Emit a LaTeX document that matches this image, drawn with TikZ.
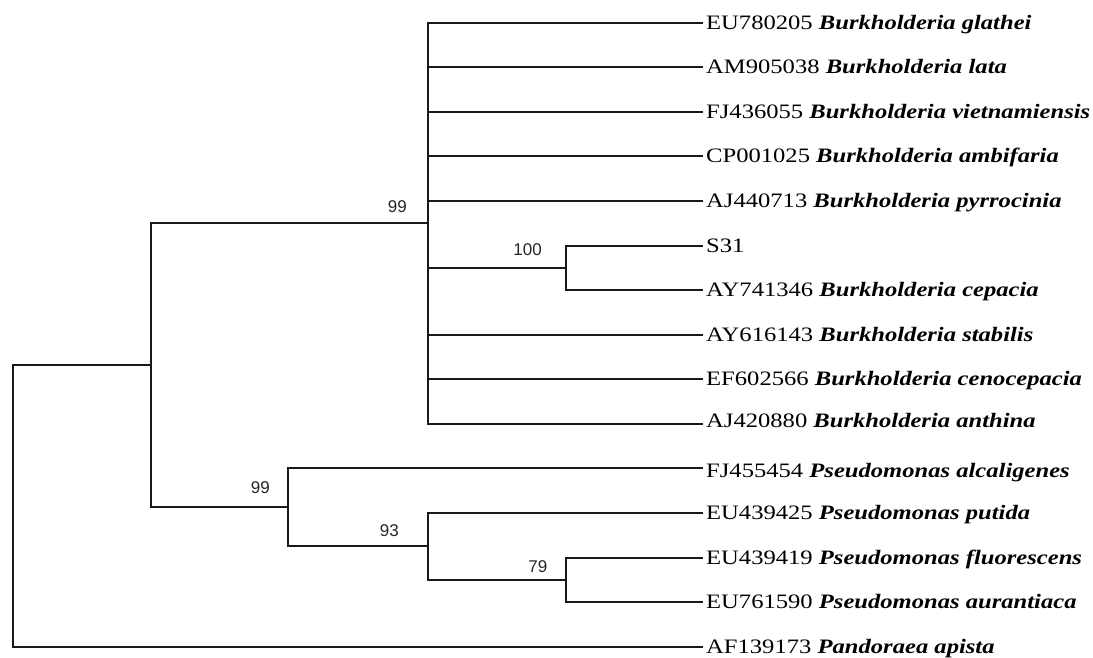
\documentclass[tikz,border=0pt]{standalone}
\usepackage{fontspec}
\setmainfont{Liberation Serif}[FakeStretch=1.2]
\newfontfamily\bsfont{Liberation Sans}
\begin{document}
\begin{tikzpicture}[x=1pt,y=-1pt,
  branch/.style={draw=black!90, line width=2pt},
  leaflabel/.style={anchor=base west, inner xsep=3pt, inner ysep=0pt, font=\fontsize{20.5}{24}\selectfont},
  boot/.style={anchor=base east, inner sep=0pt, font=\bsfont\fontsize{17}{20}\selectfont, text=black!85}]
\useasboundingbox[fill=white] (0,0) rectangle (1093,657);
% internal nodes
\coordinate (r) at (13,506);
\coordinate (a) at (151,365);
\coordinate (b) at (428,223);
\coordinate (c) at (566,268);
\coordinate (p) at (288,507);
\coordinate (q) at (428,546);
\coordinate (s) at (566,580);
% tips
\coordinate (t0) at (703,23);
\coordinate (t1) at (703,67);
\coordinate (t2) at (703,112);
\coordinate (t3) at (703,156);
\coordinate (t4) at (703,201);
\coordinate (t5) at (703,246);
\coordinate (t6) at (703,290);
\coordinate (t7) at (703,335);
\coordinate (t8) at (703,379);
\coordinate (t9) at (703,424);
\coordinate (t10) at (703,468);
\coordinate (t11) at (703,513);
\coordinate (t12) at (703,558);
\coordinate (t13) at (703,602);
\coordinate (t14) at (703,647);
% branches
\path[branch] (r) |- (a);
\path[branch] (r) |- (t14);
\path[branch] (a) |- (b);
\path[branch] (a) |- (p);
\path[branch] (b) |- (t0);
\path[branch] (b) |- (t1);
\path[branch] (b) |- (t2);
\path[branch] (b) |- (t3);
\path[branch] (b) |- (t4);
\path[branch] (b) -- (b |- c) -- (c);
\path[branch] (b) |- (t7);
\path[branch] (b) |- (t8);
\path[branch] (b) |- (t9);
\path[branch] (c) |- (t5);
\path[branch] (c) |- (t6);
\path[branch] (p) |- (t10);
\path[branch] (p) |- (q);
\path[branch] (q) |- (t11);
\path[branch] (q) |- (s);
\path[branch] (s) |- (t12);
\path[branch] (s) |- (t13);
% leaf labels
\node[leaflabel] (l0) at ([yshift=-6.7pt]t0) {EU780205 \textbf{\textit{Burkholderia glathei}}};
\node[leaflabel] (l1) at ([yshift=-6.7pt]t1) {AM905038 \textbf{\textit{Burkholderia lata}}};
\node[leaflabel] (l2) at ([yshift=-6.7pt]t2) {FJ436055 \textbf{\textit{Burkholderia vietnamiensis}}};
\node[leaflabel] (l3) at ([yshift=-6.7pt]t3) {CP001025 \textbf{\textit{Burkholderia ambifaria}}};
\node[leaflabel] (l4) at ([yshift=-6.7pt]t4) {AJ440713 \textbf{\textit{Burkholderia pyrrocinia}}};
\node[leaflabel] (l5) at ([yshift=-6.7pt]t5) {S31};
\node[leaflabel] (l6) at ([yshift=-6.7pt]t6) {AY741346 \textbf{\textit{Burkholderia cepacia}}};
\node[leaflabel] (l7) at ([yshift=-6.7pt]t7) {AY616143 \textbf{\textit{Burkholderia stabilis}}};
\node[leaflabel] (l8) at ([yshift=-6.7pt]t8) {EF602566 \textbf{\textit{Burkholderia cenocepacia}}};
\node[leaflabel] (l9) at ([yshift=-3pt]t9) {AJ420880 \textbf{\textit{Burkholderia anthina}}};
\node[leaflabel] (l10) at ([yshift=-9pt]t10) {FJ455454 \textbf{\textit{Pseudomonas alcaligenes}}};
\node[leaflabel] (l11) at ([yshift=-6.7pt]t11) {EU439425 \textbf{\textit{Pseudomonas putida}}};
\node[leaflabel] (l12) at ([yshift=-6.7pt]t12) {EU439419 \textbf{\textit{Pseudomonas fluorescens}}};
\node[leaflabel] (l13) at ([yshift=-6.7pt]t13) {EU761590 \textbf{\textit{Pseudomonas aurantiaca}}};
\node[leaflabel] (l14) at ([yshift=-6.7pt]t14) {AF139173 \textbf{\textit{Pandoraea apista}}};
% bootstrap values
\node[boot] (bb) at ([xshift=-21pt,yshift=11pt]b) {99};
\node[boot] (bc) at ([xshift=-24pt,yshift=13pt]c) {100};
\node[boot] (bp) at ([xshift=-18pt,yshift=14pt]p) {99};
\node[boot] (bq) at ([xshift=-29pt,yshift=9.5pt]q) {93};
\node[boot] (bs) at ([xshift=-18.5pt,yshift=8pt]s) {79};
\end{tikzpicture}
\end{document}
